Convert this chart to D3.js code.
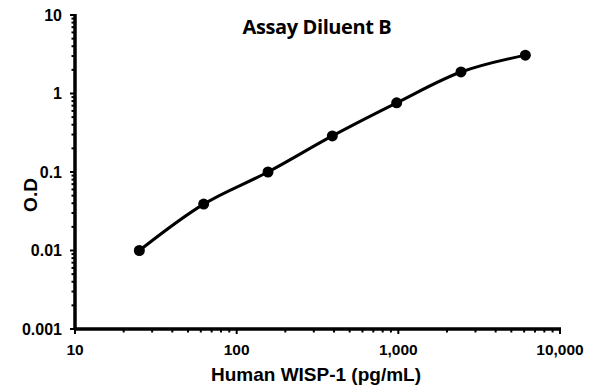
<!DOCTYPE html>
<html><head><meta charset="utf-8">
<script src="https://cdn.jsdelivr.net/npm/d3@7"></script>
<style>body{margin:0;background:#fff}svg{display:block}</style>
</head><body>
<script>
const concentrations = [25, 62.5, 156.25, 390.6, 976.6, 2441, 6104];
const odValues = [0.01, 0.039, 0.1, 0.288, 0.76, 1.88, 3.08];
const xTickValues = [10, 100, 1000, 10000];
const xTickLabels = ["10", "100", "1,000", "10,000"];
const yTickValues = [0.001, 0.01, 0.1, 1, 10];
const yTickLabels = ["0.001", "0.01", "0.1", "1", "10"];
const title = "Assay Diluent B";
const xTitle = "Human WISP-1 (pg/mL)";
const yTitle = "O.D";

const W = 595, H = 392;
const FONT = "'Liberation Sans', Arial, sans-serif";
const svg = d3.select("body").append("svg").attr("width", W).attr("height", H);
const x = d3.scaleLog().domain([10, 10000]).range([75, 560]);
const y = d3.scaleLog().domain([0.001, 10]).range([329, 15]);

const xMinor = [];
for (let d = 10; d < 10000; d *= 10) for (let k = 2; k <= 9; k++) xMinor.push(d * k);
const yMinor = [];
for (let d = 0.001; d < 10; d *= 10) for (let k = 2; k <= 9; k++) yMinor.push(+(d * k).toPrecision(3));

const gx = svg.append("g").attr("transform", "translate(0,329)");
gx.selectAll("line.minor").data(xMinor).join("line")
  .attr("x1", d => x(d)).attr("x2", d => x(d)).attr("y1", 0).attr("y2", 3.5)
  .attr("stroke", "#000").attr("stroke-width", 2);
gx.selectAll("line.major").data(xTickValues).join("line")
  .attr("x1", d => x(d)).attr("x2", d => x(d)).attr("y1", 0).attr("y2", 5)
  .attr("stroke", "#000").attr("stroke-width", 2);
gx.append("line").attr("x1", 74).attr("x2", 561).attr("y1", 0).attr("y2", 0)
  .attr("stroke", "#000").attr("stroke-width", 3.5);
gx.selectAll("text").data(xTickValues).join("text")
  .attr("x", d => x(d)).attr("y", 26).attr("text-anchor", "middle")
  .attr("font-family", FONT).attr("font-weight", "bold")
  .attr("font-size", 15.5).text((d, i) => xTickLabels[i]);

const gy = svg.append("g").attr("transform", "translate(75,0)");
gy.selectAll("line.minor").data(yMinor).join("line")
  .attr("x1", -3.5).attr("x2", 0).attr("y1", d => y(d)).attr("y2", d => y(d))
  .attr("stroke", "#000").attr("stroke-width", 2);
gy.selectAll("line.major").data(yTickValues).join("line")
  .attr("x1", -5).attr("x2", 0).attr("y1", d => y(d)).attr("y2", d => y(d))
  .attr("stroke", "#000").attr("stroke-width", 2);
gy.append("line").attr("x1", 0).attr("x2", 0).attr("y1", 14).attr("y2", 330)
  .attr("stroke", "#000").attr("stroke-width", 3.5);
gy.selectAll("text").data(yTickValues).join("text")
  .attr("x", -13).attr("y", d => y(d)).attr("dy", "0.36em").attr("text-anchor", "end")
  .attr("font-family", FONT).attr("font-weight", "bold")
  .attr("font-size", 16).text((d, i) => yTickLabels[i]);

const pts = concentrations.map((c, i) => [c, odValues[i]]);
const line = d3.line().x(d => x(d[0])).y(d => y(d[1])).curve(d3.curveCatmullRom.alpha(0.5));
svg.append("path").datum(pts).attr("d", line).attr("fill", "none")
  .attr("stroke", "#000").attr("stroke-width", 3);
svg.selectAll("circle").data(pts).join("circle")
  .attr("cx", d => x(d[0])).attr("cy", d => y(d[1])).attr("r", 5.5).attr("fill", "#000");

svg.append("text").attr("x", 317).attr("y", 33.5).attr("text-anchor", "middle")
  .attr("font-family", "'Open Sans', Lato, sans-serif").attr("font-weight", "bold")
  .attr("font-size", 20).attr("letter-spacing", -0.4).text(title);
svg.append("text").attr("x", 316).attr("y", 381).attr("text-anchor", "middle")
  .attr("font-family", FONT).attr("font-weight", "bold")
  .attr("font-size", 19).text(xTitle);
svg.append("text").attr("transform", "translate(37,195) rotate(-90)").attr("text-anchor", "middle")
  .attr("font-family", FONT).attr("font-weight", "bold")
  .attr("font-size", 19).text(yTitle);
</script>
</body></html>
